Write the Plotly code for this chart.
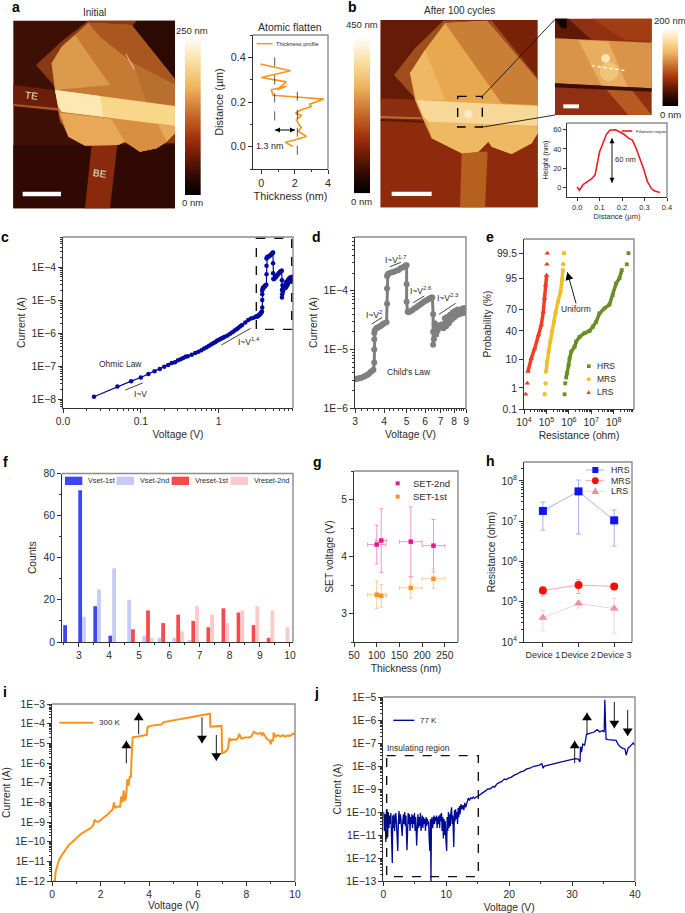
import math
import plotly.graph_objects as go
from statistics import NormalDist

W, H = 685, 913
FONT = "Liberation Sans"
INK = "#2b2b2b"

# ---------- data ----------
a_thick = [1.9,1.45,2.0,2.7,2.2,2.4,2.25,2.1,2.4,2.05,2.4,3.0,2.9,3.75,2.5,1.5,0.7,0.6,1.5,0.95,1.5,0.0,1.75,-0.05]
a_dist  = [0.0,0.02,0.03,0.046,0.07,0.085,0.1,0.12,0.14,0.15,0.165,0.18,0.19,0.213,0.22,0.225,0.23,0.255,0.27,0.255,0.29,0.31,0.34,0.37]
b_dist = [0,0.01,0.027,0.045,0.065,0.08,0.09,0.1,0.115,0.13,0.145,0.155,0.17,0.18,0.195,0.21,0.23,0.245,0.26,0.275,0.295,0.313,0.33,0.343,0.36,0.368]
b_hgt  = [0.5,-3,3,5.5,9,13,25,37,46,55,59.5,60,60,59,57,55,51,49.5,42,33,20,6,-1,-3.6,-5,-5.4]

cV = [0.025,0.05,0.075,0.1,0.125,0.15,0.175,0.2,0.225,0.25,0.275,0.3,0.325,0.35,0.375,0.4,0.45,0.5,0.55,0.6,0.65,0.7,0.75,0.8,0.85,0.9,0.95,1.0,1.05,1.1,1.15,1.2,1.3,1.4,1.5,1.6,1.7,1.8,1.9,2.0,2.2,2.4,2.6,2.8,3.0,3.05,3.1,3.15,3.2,3.25,3.3,3.35,3.4,3.45,3.5,3.55,3.6,3.63,3.63,3.63,3.63,3.65,3.7,3.75,3.8,3.85,3.9,3.95,4.0,4.1,4.12,4.12,4.12,4.15,4.2,4.3,4.4,4.5,4.6,4.7,4.8,4.9,4.95,5.0,5.0,5.0,5.05,5.1,5.2,5.3,5.4,5.5,5.6,5.7,5.8,5.9,6.0,6.1,6.2,6.3,6.4,6.45,6.5,6.5,6.5,6.55,6.6,6.65,6.7,6.75,6.8,6.9,7.0,7.1,7.2,7.3,7.4,7.5,7.6,7.7,7.8,7.9,8.0,8.1,8.2,8.3,8.4,8.5,8.6,8.7,8.8,8.9,9.0]
cI = [1.18e-8,2.4e-8,3.5e-8,4.5e-8,5.8e-8,7e-8,8.2e-8,9.5e-8,1.08e-7,1.25e-7,1.3e-7,1.5e-7,1.62e-7,1.75e-7,1.9e-7,2e-7,2.2e-7,2.5e-7,2.7e-7,3e-7,3.4e-7,3.7e-7,4.1e-7,4.5e-7,4.9e-7,5.3e-7,5.8e-7,6.2e-7,6.6e-7,7e-7,7.4e-7,7.7e-7,8.5e-7,9.5e-7,1.05e-6,1.2e-6,1.3e-6,1.45e-6,1.6e-6,1.75e-6,2.1e-6,2.5e-6,2.75e-6,2.9e-6,3.1e-6,3.15e-6,3.2e-6,3.25e-6,3.3e-6,3.4e-6,3.5e-6,3.6e-6,3.7e-6,3.9e-6,4.1e-6,4.3e-6,4.5e-6,6e-6,1e-5,1.5e-5,1.9e-5,2.1e-5,2.3e-5,2.35e-5,2.45e-5,2.5e-5,2.6e-5,2.7e-5,2.8e-5,2.9e-5,6e-5,1.1e-4,1.8e-4,1.9e-4,2e-4,2.05e-4,2.1e-4,2.2e-4,2.25e-4,2.4e-4,2.5e-4,2.6e-4,2.7e-4,2.75e-4,1.3e-4,6.5e-5,4.4e-5,4.3e-5,4.5e-5,4.7e-5,5e-5,5.2e-5,5.5e-5,5.8e-5,6.1e-5,6.4e-5,6.7e-5,6.9e-5,7.2e-5,7.5e-5,7.7e-5,7.7e-5,4e-5,1.2e-5,2e-5,1.5e-5,2.8e-5,2e-5,1.8e-5,2.4e-5,2.1e-5,2.6e-5,2.4e-5,2.7e-5,2.3e-5,3.4e-5,2.5e-5,3.6e-5,2.8e-5,3.9e-5,3.2e-5,4.3e-5,3.5e-5,4.6e-5,3.8e-5,4.8e-5,4e-5,4.7e-5,4.1e-5,5e-5,4.2e-5,5.1e-5,4.4e-5]

e_hrs_R = [6.4e5,6.9e5,7.6e5,8.4e5,9.7e5,1.07e6,1.27e6,1.79e6,2.1e6,3e6,5e6,8.3e6,1.17e7,1.64e7,2.3e7,3.85e7,6.4e7,9e7,1.27e8,1.79e8,2.27e8,3.8e8,4.5e8]
e_hrs_P = [0.53,1.55,2.6,3.7,6.8,10.5,15.7,20.5,26,32,37,40,46,53,65,71.6,76,85.4,93,95.2,97.5,98.5,99.5]
e_mrs_R = [8.3e4,9.2e4,9.5e4,1.05e5,1.25e5,1.48e5,1.75e5,2.15e5,2.55e5,3.24e5,4.26e5,4.9e5,5.4e5,5.6e5,6e5]
e_mrs_P = [0.53,1.55,4.2,8.5,15.7,26,39,53,66.5,79,88,94.5,97.5,98.5,99.5]
e_lrs_R = [1.19e4,1.4e4,1.5e4,2.1e4,3e4,4.5e4,5.9e4,7.2e4,8.3e4,9.2e4,1.02e5,1.05e5,1.09e5]
e_lrs_P = [0.53,1.55,4.2,10.5,18.8,34.5,48.6,67,82.5,92.2,96.2,98.5,99.5]
e_ticks = [0.1,1,10,40,70,95,99.5]

f_set1_x = [2.5,3,3.5,4]
f_set1 = [8,72,17,3]
f_set2_x = [3,3.5,4,4.5,5,5.5,6,6.5]
f_set2 = [12,25,35,20,3,2,2,1]
f_rst1_x = [4.5,5,5.5,6,6.5,7,7.5,8,8.5,9]
f_rst1 = [6,15,9,13,10,7,16,14,8,2]
f_rst2_x = [5,6,6.5,7,7.5,8,8.5,9,9.5]
f_rst2 = [2,5,17,13,9,15,17,15,7]

g_x = [100,110,175,225]
g_xerr = [20,12,25,25]
g_2nd = [4.21,4.28,4.26,4.19]
g_2nd_err = [0.34,0.56,0.61,0.46]
g_1st = [3.33,3.31,3.45,3.61]
g_1st_err = [0.24,0.2,0.18,0.17]

h_dev = [1,2,3]
h_hrs = [1.8e7,5.5e7,1.05e7]
h_hrs_lo = [6e6,4.8e6,2.4e6]
h_hrs_hi = [3e7,1.05e8,1.9e7]
h_mrs = [1.9e5,2.6e5,2.4e5]
h_mrs_lo = [1.4e5,1.6e5,2.2e5]
h_mrs_hi = [2.4e5,3.5e5,2.7e5]
h_lrs = [4e4,9e4,6.8e4]
h_lrs_lo = [1.9e4,7e4,1.6e4]
h_lrs_hi = [6e4,1.05e5,1.2e5]

iV = [0.05,0.12,0.15,0.2,0.3,0.4,0.55,0.7,0.85,1.0,1.2,1.4,1.6,1.7,1.75,1.8,1.9,2.1,2.3,2.5,2.55,2.6,2.65,2.8,2.85,2.9,2.95,3.0,3.05,3.1,3.15,3.2,3.25,3.27,3.3,3.32,3.6,3.9,3.93,4.0,4.3,4.5,4.6,4.9,5.5,6.0,6.4,6.5,6.52,6.98,7.0,7.1,7.2,7.25,
      7.3,7.35,7.45,7.55,7.65,7.7,7.8,7.95,8.1,8.2,8.3,8.4,8.5,8.6,8.65,8.7,8.8,8.85,8.95,9.0,9.05,9.1,9.12,9.2,9.3,9.4,9.5,9.6,9.7,9.8,9.9,10]
iI = [1e-12,1e-12,3e-12,5e-12,1.3e-11,2e-11,3.5e-11,7e-11,1e-10,1.5e-10,2.5e-10,3.5e-10,5e-10,7e-10,1.3e-9,1.1e-9,1e-9,1.6e-9,2.5e-9,4.5e-9,1e-8,5e-9,6e-9,6e-9,2e-8,1e-8,4e-8,1.2e-8,2e-8,1.5e-7,7e-8,2e-7,2e-7,1.5e-6,1.8e-5,2e-5,2.3e-5,2.7e-5,6.5e-5,7.5e-5,8.5e-5,9e-5,1.2e-4,1.4e-4,2e-4,2.6e-4,3e-4,3.2e-4,7e-5,7.7e-5,3.2e-6,3.5e-6,4.5e-6,6e-6,
      1.9e-5,1.4e-5,1.6e-5,1.5e-5,1.8e-5,3e-5,1.7e-5,2e-5,2e-5,2.2e-5,3.8e-5,3.4e-5,3e-5,3.4e-5,2.6e-5,3.2e-5,2.2e-5,1.6e-5,1.4e-5,9e-6,1.6e-5,1.3e-5,3.5e-5,2.2e-5,2.6e-5,2.2e-5,2.6e-5,2.2e-5,2.5e-5,2.4e-5,2.9e-5,3.3e-5]

jV = [0.05,0.1,0.15,0.2,0.25,0.3,0.35,0.4,0.5,0.55,
      0.6,0.7,0.8,0.9,1.0,1.1,1.2,1.3,1.43,1.5,
      1.6,1.7,1.8,1.9,2.0,2.1,2.2,2.3,2.4,2.5,
      2.6,2.7,2.8,2.9,3.0,3.1,3.2,3.3,3.4,3.5,
      3.6,3.76,3.85,3.95,4.05,4.15,4.25,4.35,4.45,4.55,
      4.65,4.75,4.85,4.95,5.05,5.15,5.3,5.4,5.5,5.6,
      5.7,5.8,5.9,6.0,6.1,6.2,6.3,6.4,6.5,6.6,
      6.7,6.8,6.9,7.0,7.1,7.2,7.3,7.4,7.5,7.58,
      7.65,7.75,7.85,7.95,8.05,8.15,8.25,8.35,8.45,8.55,
      8.65,8.75,8.85,8.95,9.05,9.15,9.25,9.35,9.45,9.55,
      9.65,9.75,9.85,9.95,10.07,10.15,10.25,10.35,10.45,10.55,
      10.65,10.75,10.85,10.95,11.05,11.2,11.3,11.4,11.5,11.6,
      11.7,11.8,11.9,12.0,12.1,12.2,12.35,12.5,12.65,12.8,
      12.95,13.1,13.3,13.5,13.7,13.9,14.1,14.3,14.5,14.7,
      15.1,15.4,15.7,16.0,16.3,16.6,16.9,17.2,17.5,17.7,
      18,18.4,18.8,19.2,19.6,19.9,20.3,20.8,21.3,21.8,
      22.3,22.8,23.3,23.8,24.3,24.8,25.2,25.4,25.6,26.2,
      27,27.8,28.5,29.2,30,30.5,31,31.26,31.35,31.5,
      31.7,32,32.3,32.6,32.9,33.2,33.5,34,34.4,34.8,
      35.1,35.2,35.4,35.7,36,36.5,37,37.3,37.6,38,
      38.4,38.6,38.9,39.2,39.7,40]
jI = [1e-10,3e-11,1.5e-11,7e-11,2.5e-11,8e-11,1e-11,5e-12,1.2e-10,3e-11,
      1.3e-10,8e-12,1e-10,2e-11,7e-11,3e-11,9e-11,2e-11,6e-13,7e-11,
      2e-11,8e-11,1.5e-11,5e-11,9e-11,3e-11,1e-11,2e-12,4e-11,1.1e-10,
      3e-11,8e-11,5e-11,2e-11,9e-12,4e-11,8e-11,3e-11,1e-10,2.5e-11,
      7e-11,2.2e-12,6e-11,9e-11,3e-11,8e-11,1.5e-11,6e-11,3e-11,8e-11,
      2e-11,7e-11,3e-11,9e-11,1.5e-11,6e-11,3.5e-12,5e-11,8e-11,2e-11,
      6e-11,2.5e-11,9e-11,1.5e-11,5e-11,7e-11,2e-11,6e-11,3e-11,5e-11,
      1.5e-11,6e-11,2.5e-11,5e-11,3e-11,4e-11,6e-12,2e-12,5e-11,1e-13,
      3e-11,6e-11,2e-11,5e-11,7e-11,3e-11,6e-11,4e-11,7e-11,2e-11,
      6e-11,3e-11,7e-11,2e-11,8e-11,4e-11,9e-11,1.5e-11,6e-11,7e-12,
      5e-11,1e-11,4e-11,6e-12,2e-12,6e-11,1.5e-11,1e-10,2e-11,8e-11,
      2.5e-11,1e-10,1.6e-10,3e-11,7e-11,3e-12,1.2e-10,4e-11,1.3e-10,5e-11,
      1e-10,3e-11,1.5e-10,6e-11,1.8e-10,8e-11,2.2e-10,1.3e-10,2e-10,1.2e-10,
      2.5e-10,1.6e-10,2.8e-10,4e-10,3.2e-10,4.2e-10,3.8e-10,4.5e-10,3.9e-10,4.4e-10,
      5e-10,5.8e-10,7e-10,7.5e-10,8.5e-10,1e-9,1e-9,1.1e-9,1.3e-9,1.2e-9,
      1.6e-9,1.9e-9,2.1e-9,2.7e-9,2.6e-9,3e-9,3.2e-9,4e-9,4.5e-9,5.5e-9,
      6e-9,7.5e-9,8e-9,9.5e-9,1e-8,1.1e-8,1.25e-8,8e-9,1e-8,1.1e-8,
      1.3e-8,1.45e-8,1.6e-8,1.8e-8,2e-8,2.1e-8,2e-8,1.5e-8,7e-8,4e-8,
      9e-8,8e-8,2.4e-7,2.5e-7,2.7e-7,2.9e-7,3e-7,3.8e-7,3e-7,3.5e-7,
      3e-7,7.5e-6,1.5e-7,1.4e-7,1.4e-7,1.3e-7,1.3e-7,9e-8,7e-8,6e-8,
      5.5e-8,3e-8,6e-8,7e-8,1e-7,8e-8]

# ---------- helpers ----------
def px(x): return x / W
def py(y): return 1 - y / H
def c(o, x, y): return (o[0] + x / 3, o[1] + y / 3)

O1, O2, O3, O4, O5, O6, O7, O8 = (0,0), (345,0), (0,225), (345,225), (0,450), (315,450), (0,670), (345,670)
fig = go.Figure()
shapes, annos = [], []
axcount = [0]

def text(x, y, s, size=10, color=INK, anchor="center", angle=0, bold=False, italic=False):
    if bold: s = f"<b>{s}</b>"
    if italic: s = f"<i>{s}</i>"
    annos.append(dict(x=px(x), y=py(y), xref="paper", yref="paper", text=s, showarrow=False,
                      font=dict(family=FONT, size=size, color=color), xanchor=anchor, yanchor="middle", textangle=angle))

def path_px(pp, fill):
    d = "M" + " L".join(f"{px(x):.5f},{py(y):.5f}" for x, y in pp) + " Z"
    shapes.append(dict(type="path", path=d, xref="paper", yref="paper", fillcolor=fill, line=dict(width=0), layer="above"))

def poly(o, pts, fill):
    path_px([c(o, *p) for p in pts], fill)

def rect(o, x0, y0, x1, y1, fill="rgba(0,0,0,0)", line=None, lw=0, dash="solid"):
    a, b = c(o, x0, y0), c(o, x1, y1)
    shapes.append(dict(type="rect", x0=px(a[0]), y0=py(a[1]), x1=px(b[0]), y1=py(b[1]), xref="paper", yref="paper",
                       fillcolor=fill, line=dict(width=lw, color=line or "rgba(0,0,0,0)", dash=dash), layer="above"))

def line(o, x0, y0, x1, y1, color="#111", lw=0.8, dash="solid"):
    a, b = c(o, x0, y0), c(o, x1, y1)
    shapes.append(dict(type="line", x0=px(a[0]), y0=py(a[1]), x1=px(b[0]), y1=py(b[1]), xref="paper", yref="paper",
                       line=dict(width=lw, color=color, dash=dash), layer="above"))

def circle(o, cx, cy, r, fill):
    a = c(o, cx - r, cy - r); b = c(o, cx + r, cy + r)
    shapes.append(dict(type="circle", x0=px(a[0]), y0=py(a[1]), x1=px(b[0]), y1=py(b[1]), xref="paper", yref="paper",
                       fillcolor=fill, line=dict(width=0), layer="above"))

def head(tip, frm, L, w):
    ux, uy = tip[0] - frm[0], tip[1] - frm[1]
    n = math.hypot(ux, uy); ux, uy = ux / n, uy / n
    bx, by = tip[0] - ux * L, tip[1] - uy * L
    path_px([tip, (bx - uy * w / 2, by + ux * w / 2), (bx + uy * w / 2, by - ux * w / 2)], "#000000")

def arrow(o, x0, y0, x1, y1, L=7.5, w=10, lw=0.9, both=False):
    a, b = c(o, x0, y0), c(o, x1, y1)
    shapes.append(dict(type="line", x0=px(a[0]), y0=py(a[1]), x1=px(b[0]), y1=py(b[1]), xref="paper", yref="paper",
                       line=dict(width=lw, color="#000"), layer="above"))
    head(b, a, L, w)
    if both: head(a, b, L, w)

def tri(o, cx, cy, r, fill):
    a = c(o, cx, cy)
    path_px([(a[0], a[1] - r), (a[0] - r, a[1] + r * 0.8), (a[0] + r, a[1] + r * 0.8)], fill)

def axes(box, xt=None, yt=None, xr=None, yr=None, xtype="linear", ytype="linear", xkw=None, ykw=None, frame=True, xs=8, ys=10, fs=10.3):
    axcount[0] += 1
    n = axcount[0]
    x0, y0, x1, y1 = box
    xk = dict(domain=[px(x0), px(x1)], anchor=f"y{n}", range=xr, type=xtype, showgrid=False, zeroline=False, showline=True,
              linecolor="#333", linewidth=1, ticks="outside", ticklen=4, tickwidth=0.8, tickcolor="#333", tickangle=0,
              tickfont=dict(family=FONT, size=fs, color=INK), layer="above traces")
    yk = dict(domain=[py(y1), py(y0)], anchor=f"x{n}", range=yr, type=ytype, showgrid=False, zeroline=False, showline=True,
              linecolor="#333", linewidth=1, ticks="outside", ticklen=4, tickwidth=0.8, tickcolor="#333",
              tickfont=dict(family=FONT, size=fs, color=INK), layer="above traces")
    if xt: xk["title"] = dict(text=xt, font=dict(family=FONT, size=fs, color=INK), standoff=xs)
    if yt: yk["title"] = dict(text=yt, font=dict(family=FONT, size=fs, color=INK), standoff=ys)
    xk.update(xkw or {}); yk.update(ykw or {})
    fig.update_layout({f"xaxis{n}": xk, f"yaxis{n}": yk})
    if frame:
        shapes.append(dict(type="path", xref="paper", yref="paper", layer="above", line=dict(width=1.4, color="#8c8c8c"),
                           path=f"M{px(x0)},{py(y0)} L{px(x1)},{py(y0)} L{px(x1)},{py(y1)}"))
    return dict(xaxis=f"x{n}", yaxis=f"y{n}")

def dec_minor(lo, hi):
    return [m * 10.0 ** e for e in range(lo, hi) for m in range(2, 10)]

AFM = [[0,"#000000"],[0.12,"#2e0a02"],[0.27,"#7a1f06"],[0.38,"#a8390f"],[0.5,"#c4692a"],[0.68,"#eeb45e"],[0.85,"#fbe1a6"],[1,"#ffffff"]]
def colorbar(o, x0, y0, x1, y1):
    a, b = c(o, x0, y0), c(o, x1, y1)
    ax = axes((a[0], a[1], b[0], b[1]), xr=[0, 1], yr=[0, 255], frame=False,
              xkw=dict(visible=False), ykw=dict(visible=False))
    fig.add_trace(go.Heatmap(z=[[k] for k in range(256)], x=[0.5], y=list(range(256)), colorscale=AFM, showscale=False, hoverinfo="skip", **ax))

# ---------- panel a image ----------
rect(O1, 40, 62, 525, 625, fill="#3e1005")
rect(O1, 40, 435, 525, 625, fill="#300a02")
poly(O1, [(410,62),(525,62),(525,235),(395,80)], "#2c0902")
poly(O1, [(40,255),(180,272),(180,332),(40,315)], "#6b1f0a")
poly(O1, [(40,312),(178,325),(178,332),(40,318)], "#b2541f")
poly(O1, [(275,435),(352,435),(330,625),(255,625)], "#8a2a0c")
poly(O1, [(108,195),(190,120),(265,62),(410,62),(395,80),(525,240),(525,430),(350,430),(180,370),(165,260)], "#8a3a12")
poly(O1, [(155,190),(185,140),(265,68),(395,75),(525,238),(525,400),(500,425),(470,445),(420,455),(375,425),(355,435),(255,437),(205,410),(178,350),(165,270)], "#c67a33")
poly(O1, [(155,190),(185,140),(225,105),(330,255),(165,270)], "#dc9a4c")
poly(O1, [(265,68),(395,75),(525,238),(525,255),(400,190),(300,110)], "#a9561f")
poly(O1, [(400,190),(525,255),(525,320),(440,310)], "#b96f2d")
poly(O1, [(180,338),(525,378),(525,400),(500,425),(470,445),(420,455),(375,425),(355,435),(255,437),(205,410)], "#e8a857")
poly(O1, [(330,350),(470,365),(500,425),(470,445),(420,455),(375,425)], "#d98f42")
poly(O1, [(165,270),(525,318),(525,378),(185,335),(175,320)], "#f8d68a")
poly(O1, [(165,270),(300,288),(310,350),(185,335),(175,320)], "#fde8b4")
line(O1, 378, 162, 403, 208, color="#f4e3c4", lw=0.8)
rect(O1, 68, 575, 183, 589, fill="#ffffff")
text(*c(O1, 93, 287), "TE", size=10, color="#f3e6d8", angle=8)
text(*c(O1, 300, 521), "BE", size=10, color="#f3e6d8", angle=8)
text(*c(O1, 282, 38), "Initial", size=10)
colorbar(O1, 555, 110, 602, 585)
text(*c(O1, 576, 90), "250 nm", size=9.5)
text(*c(O1, 576, 608), "0 nm", size=9.5)
text(*c(O1, 870, 82), "Atomic flatten", size=10.5)

ax = axes((253,35,328,169), xt="Thickness (nm)", yt="Distance (µm)", xr=[-0.5,4], yr=[-0.1,0.5], xs=4, ys=5, fs=10.8,
          xkw=dict(tickvals=[0,2,4], minor=dict(tickvals=[1,3], ticks="outside", ticklen=2, tickcolor="#333")),
          ykw=dict(tickvals=[0,0.2,0.4], ticktext=["0.0","0.2","0.4"], minor=dict(tickvals=[-0.1,0.1,0.3,0.5], ticks="outside", ticklen=2, tickcolor="#333")))
fig.add_trace(go.Scatter(x=a_thick, y=a_dist, mode="lines", line=dict(color="#f7931e", width=1.6), showlegend=False, **ax))
line(O1, 770, 131, 818, 131, color="#f7931e", lw=1.4)
text(*c(O1, 821, 131), "Thickness profile", size=5.7, anchor="left")
line(O1, 824, 172, 824, 372, lw=0.7, dash="dash")
line(O1, 892, 275, 892, 472, lw=0.7, dash="dash")
arrow(O1, 825, 390, 885, 390, L=5, w=5, lw=1, both=True)
text(*c(O1, 809, 437), "1.3 nm", size=9)

# ---------- panel b image ----------
rect(O2, 107, 60, 578, 622, fill="#7a2208")
rect(O2, 107, 60, 300, 300, fill="#651b07")
rect(O2, 107, 360, 578, 622, fill="#8e2b0c")
poly(O2, [(107,295),(230,300),(230,352),(107,348)], "#8c2f10")
poly(O2, [(107,348),(232,352),(232,358),(107,355)], "#bd6a2c")
poly(O2, [(107,357),(240,362),(240,368),(107,363)], "#561706")
poly(O2, [(350,455),(428,455),(420,622),(345,622)], "#b5601f")
poly(O2, [(147,225),(210,145),(295,62),(440,62),(578,235),(578,400),(300,400),(215,300)], "#a04d1c")
poly(O2, [(195,220),(240,150),(300,70),(425,62),(578,240),(578,400),(560,430),(500,462),(440,440),(430,425),(400,455),(350,460),(290,430),(260,415),(235,360),(210,300)], "#e8a850")
poly(O2, [(300,70),(425,62),(578,240),(578,315),(470,310)], "#c97f36")
poly(O2, [(195,220),(240,150),(300,300),(215,300)], "#efb865")
poly(O2, [(250,365),(578,380),(578,400),(560,430),(500,462),(440,440),(430,425),(400,455),(350,460),(290,430),(260,415)], "#efb863")
poly(O2, [(215,300),(578,318),(578,378),(250,365),(235,350)], "#f8d898")
circle(O2, 370, 342, 12, "#fcecc6")
rect(O2, 338, 289, 412, 381, line="#000", lw=1.4, dash="dash")
line(O2, 412, 289, 630, 58, lw=0.9)
line(O2, 415, 381, 630, 345, lw=0.9)
rect(O2, 140, 575, 260, 588, fill="#ffffff")
text(*c(O2, 342, 30), "After 100 cycles", size=10)
colorbar(O2, 27, 110, 75, 580)
text(*c(O2, 52, 75), "450 nm", size=9.5)
text(*c(O2, 50, 605), "0 nm", size=9.5)

# inset image
rect(O2, 630, 56, 920, 345, fill="#8f3010")
poly(O2, [(630,56),(670,56),(740,120),(630,115)], "#5e1a07")
poly(O2, [(630,56),(665,56),(665,85),(650,85)], "#120402")
poly(O2, [(740,56),(920,56),(920,125),(840,120)], "#a13c13")
poly(O2, [(780,265),(860,270),(920,345),(850,345)], "#b55a22")
poly(O2, [(630,115),(920,128),(920,265),(630,250)], "#d9944a")
poly(O2, [(700,120),(790,125),(850,265),(770,258)], "#e9ae60")
poly(O2, [(630,250),(920,265),(920,275),(630,262)], "#3a0f05")
circle(O2, 792, 215, 28, "#f2c478")
circle(O2, 782, 175, 13, "#fce6b4")
line(O2, 740, 197, 840, 212, color="#ffffff", lw=1.4, dash="dot")
rect(O2, 655, 313, 702, 325, fill="#ffffff")
colorbar(O2, 952, 85, 1000, 318)
text(*c(O2, 975, 60), "200 nm", size=9.5)
text(*c(O2, 975, 343), "0 nm", size=9.5)

ax = axes((567,123,667,197), xt="Distance (µm)", yt="Height (nm)", xr=[-0.045,0.4], yr=[-10,67], xs=2, ys=3, fs=7.5,
          xkw=dict(tickvals=[0,0.1,0.2,0.3,0.4], ticktext=["0.0","0.1","0.2","0.3","0.4"], ticklen=3),
          ykw=dict(tickvals=[0,20,40,60], ticklen=3))
fig.add_trace(go.Scatter(x=b_dist, y=b_hgt, mode="lines", line=dict(color="#ee1c25", width=1.6), showlegend=False, **ax))
line(O2, 830, 393, 862, 393, color="#ee1c25", lw=1.6)
text(*c(O2, 868, 393), "Filament region", size=4.4, anchor="left")
arrow(O2, 801, 415, 801, 548, L=5, w=5, both=True)
text(*c(O2, 842, 480), "60 nm", size=7.5)

# ---------- panel c ----------
BLUE = "#000aa0"
ax = axes((63,237,293,408), xt="Voltage (V)", yt="Current (A)", xr=[-2,0.955], yr=[-8.27,-3.09], xtype="log", ytype="log", xs=4, ys=3,
          xkw=dict(tickvals=[0.01,0.1,1], ticktext=["0.0","0.1","1"], minor=dict(tickvals=dec_minor(-2,1), ticks="outside", ticklen=2, tickcolor="#333")),
          ykw=dict(tickvals=[1e-8,1e-7,1e-6,1e-5,1e-4], ticktext=["1E−8","1E−7","1E−6","1E−5","1E−4"], minor=dict(tickvals=dec_minor(-9,-3), ticks="outside", ticklen=2, tickcolor="#333")))
fig.add_trace(go.Scatter(x=cV, y=cI, mode="lines+markers", line=dict(color=BLUE, width=1.2), marker=dict(color=BLUE, size=4.5), showlegend=False, **ax))
rect(O3, 769, 40, 875, 313, line="#111", lw=1.4, dash="dash")
line(O3, 376, 495, 428, 474); line(O3, 664, 360, 752, 310)
text(*c(O3, 360, 416), "Ohmic Law", size=8.5)
text(*c(O3, 420, 508), "I~V", size=8.5)
text(*c(O3, 748, 350), "I~V<sup>1.4</sup>", size=8.5)

# ---------- panel d ----------
GRAY = "#7f7f7f"
dV = [v for v in cV if v >= 3]
dI = [i for v, i in zip(cV, cI) if v >= 3]
ax = axes((355,237,466,408), xt="Voltage (V)", yt="Current (A)", xr=[0.4771,0.9542], yr=[-6,-3.08], xtype="log", ytype="log", xs=4, ys=3,
          xkw=dict(tickvals=[3,4,5,6,7,8,9], minor=dict(tickvals=[3+0.2*k for k in range(31)], ticks="outside", ticklen=2, tickcolor="#333")),
          ykw=dict(tickvals=[1e-6,1e-5,1e-4], ticktext=["1E−6","1E−5","1E−4"], minor=dict(tickvals=dec_minor(-6,-3), ticks="outside", ticklen=2, tickcolor="#333")))
fig.add_trace(go.Scatter(x=dV, y=dI, mode="lines+markers", line=dict(color=GRAY, width=3), marker=dict(color=GRAY, size=6), showlegend=False, **ax))
line(O4, 80, 297, 112, 277); line(O4, 135, 125, 168, 112); line(O4, 205, 233, 238, 213); line(O4, 282, 268, 332, 235)
text(*c(O4, 86, 268), "I~V<sup>2</sup>", size=8.5)
text(*c(O4, 152, 102), "I~V<sup>1.7</sup>", size=8.5)
text(*c(O4, 228, 195), "I~V<sup>2.6</sup>", size=8.5)
text(*c(O4, 308, 217), "I~V<sup>2.3</sup>", size=8.5)
text(*c(O4, 192, 441), "Child's Law", size=8.5)

# ---------- panel e ----------
nd = NormalDist()
z = lambda ps: [nd.inv_cdf(p / 100) for p in ps]
ax = axes((524,239,634,409), xt="Resistance (ohm)", yt="Probability (%)", xr=[4,8.9], yr=[z([0.1])[0], -z([0.1])[0]], xtype="log", xs=4, ys=3,
          xkw=dict(tickvals=[1e4,1e5,1e6,1e7,1e8], ticktext=["10<sup>4</sup>","10<sup>5</sup>","10<sup>6</sup>","10<sup>7</sup>","10<sup>8</sup>"],
                   minor=dict(tickvals=dec_minor(4,9), ticks="outside", ticklen=2, tickcolor="#333")),
          ykw=dict(tickvals=z(e_ticks), ticktext=[str(t) for t in e_ticks]))
for Rs, Ps, col, sym, ms, cut in [(e_hrs_R,e_hrs_P,"#6a8e23","square",3.8,-2),(e_mrs_R,e_mrs_P,"#efbe28","circle",4.4,-2),(e_lrs_R,e_lrs_P,"#f43b26","triangle-up",5,-2)]:
    fig.add_trace(go.Scatter(x=Rs[2:cut], y=z(Ps[2:cut]), mode="lines", line=dict(color=col, width=3.5), showlegend=False, hoverinfo="skip", **ax))
    fig.add_trace(go.Scatter(x=Rs, y=z(Ps), mode="markers", marker=dict(color=col, size=ms, symbol=sym), showlegend=False, **ax))
rect(O4, 726, 418, 737, 429, fill="#6a8e23")
circle(O4, 731, 463, 6, "#efbe28")
tri(O4, 731, 502, 2.2, "#f43b26")
text(*c(O4, 750, 424), "HRS", size=8.5, anchor="left")
text(*c(O4, 750, 463), "MRS", size=8.5, anchor="left")
text(*c(O4, 750, 502), "LRS", size=8.5, anchor="left")
arrow(O4, 693, 235, 667, 142, L=7.5, w=8)
text(*c(O4, 694, 253), "Uniform", size=8.5)

# ---------- panel f ----------
ax = axes((62,473.5,293,642), yt="Counts", xr=[2.44,10.1], yr=[0,80], xs=4, ys=4,
          xkw=dict(tickvals=list(range(3,11)), minor=dict(tickvals=[2.5+k for k in range(8)], ticks="outside", ticklen=2, tickcolor="#333")),
          ykw=dict(tickvals=[0,20,40,60,80], minor=dict(tickvals=[10,30,50,70], ticks="outside", ticklen=2, tickcolor="#333")))
for xs_, ys_, col, nm, off, lx in [(f_set1_x,f_set1,"#3c46f5","Vset-1st",-0.02,195),(f_set2_x,f_set2,"#c6caf9","Vset-2nd",0.105,350),
                                   (f_rst1_x,f_rst1,"#f84a4a","Vreset-1st",0.23,515),(f_rst2_x,f_rst2,"#fdc8c8","Vreset-2nd",0.355,692)]:
    fig.add_trace(go.Bar(x=xs_, y=ys_, width=0.125, offset=off, marker=dict(color=col, line=dict(width=0)), showlegend=False, **ax))
    rect(O5, lx, 80, lx + 52, 105, fill=col)
    text(*c(O5, lx + 64, 92), nm, size=7.3, anchor="left")

# ---------- panel g ----------
ax = axes((354,471,458,642), xt="Thickness (nm)", yt="SET voltage (V)", xr=[50,279], yr=[2.5,5.5], xs=4, ys=5,
          xkw=dict(tickvals=[50,100,150,200,250]),
          ykw=dict(tickvals=[3,4,5], minor=dict(tickvals=[2.5,3.5,4.5,5.5], ticks="outside", ticklen=2, tickcolor="#333")))
for ys_, er, col, ecol, nm, ly in [(g_2nd,g_2nd_err,"#f0148c","#f48cc4","SET-2nd",100),(g_1st,g_1st_err,"#f7931e","#f9c590","SET-1st",140)]:
    fig.add_trace(go.Scatter(x=g_x, y=ys_, mode="markers", marker=dict(color=col, size=4.5, symbol="square"), showlegend=False,
                             error_x=dict(type="data", array=g_xerr, color=ecol, thickness=0.9, width=2),
                             error_y=dict(type="data", array=er, color=ecol, thickness=0.9, width=2), **ax))
    rect(O6, 242, ly - 6, 254, ly + 6, fill=col)
    text(*c(O6, 288, ly), nm, size=9.5, anchor="left")

# ---------- panel h ----------
ax = axes((524,462,632,642), yt="Resistance (ohm)", xr=[0.47,3.5], yr=[4,8.47], ytype="log", xs=4, ys=3,
          xkw=dict(tickvals=[1,2,3], ticktext=["Device 1","Device 2","Device 3"], tickfont=dict(family=FONT, size=8.9, color=INK)),
          ykw=dict(tickvals=[1e4,1e5,1e6,1e7,1e8], ticktext=["10<sup>4</sup>","10<sup>5</sup>","10<sup>6</sup>","10<sup>7</sup>","10<sup>8</sup>"],
                   minor=dict(tickvals=dec_minor(4,9), ticks="outside", ticklen=2, tickcolor="#333")))
for ys_, lo, hi, col, ecol, sym, nm, ly in [(h_hrs,h_hrs_lo,h_hrs_hi,"#0f14f0","#aab0f8","square","HRS",60),
                                            (h_mrs,h_mrs_lo,h_mrs_hi,"#f50c0c","#f9a9a9","circle","MRS",92),
                                            (h_lrs,h_lrs_lo,h_lrs_hi,"#ee8fa0","#f8d2d8","triangle-up","LRS",124)]:
    fig.add_trace(go.Scatter(x=h_dev, y=ys_, mode="lines+markers", line=dict(color=ecol, width=1),
                             marker=dict(color=col, size=8, symbol=sym), showlegend=False,
                             error_y=dict(type="data", symmetric=False, array=[h - v for h, v in zip(hi, ys_)],
                                          arrayminus=[v - l for l, v in zip(lo, ys_)], color=ecol, thickness=1, width=2.5), **ax))
    line(O6, 812, ly, 868, ly, color=ecol, lw=1)
    if sym == "square": rect(O6, 832, ly - 9, 850, ly + 9, fill=col)
    elif sym == "circle": circle(O6, 841, ly, 10, col)
    else: tri(O6, 841, ly - 1, 3.8, col)
    text(*c(O6, 882, ly), nm, size=8.8, anchor="left")

# ---------- panel i ----------
ORANGE = "#f7931e"
def sci(a, b): return [f"1E−{-e}" for e in range(a, b + 1)]
ax = axes((52,704,295,881), xt="Voltage (V)", yt="Current (A)", xr=[0,10], yr=[-12,-3], ytype="log", xs=2, ys=2,
          xkw=dict(tickvals=[0,2,4,6,8,10], minor=dict(tickvals=[1,3,5,7,9], ticks="outside", ticklen=2, tickcolor="#333")),
          ykw=dict(tickvals=[10.0**e for e in range(-12,-2)], ticktext=sci(-12,-3), minor=dict(tickvals=dec_minor(-12,-3), ticks="outside", ticklen=2, tickcolor="#333")))
fig.add_trace(go.Scatter(x=iV, y=iI, mode="lines", line=dict(color=ORANGE, width=2), showlegend=False, **ax))
line(O7, 178, 158, 280, 158, color=ORANGE, lw=2)
text(*c(O7, 291, 158), "300 K", size=8, anchor="left")
arrow(O7, 379, 280, 379, 212)
arrow(O7, 416, 192, 416, 128)
arrow(O7, 606, 142, 606, 220)
arrow(O7, 649, 195, 649, 272)

# ---------- panel j ----------
NAVY = "#000a96"
ax = axes((383.3,697,635,881), xt="Voltage (V)", yt="Current (A)", xr=[0,40], yr=[-13,-5], ytype="log", xs=4, ys=2,
          xkw=dict(tickvals=[0,10,20,30,40], minor=dict(tickvals=[5,15,25,35], ticks="outside", ticklen=2, tickcolor="#333")),
          ykw=dict(tickvals=[10.0**e for e in range(-13,-4)], ticktext=sci(-13,-5), minor=dict(tickvals=dec_minor(-13,-5), ticks="outside", ticklen=2, tickcolor="#333")))
fig.add_trace(go.Scatter(x=jV, y=jI, mode="lines", line=dict(color=NAVY, width=1.3), showlegend=False, **ax))
line(O8, 145, 151, 208, 151, color=NAVY, lw=1.4)
text(*c(O8, 220, 151), "77 K", size=8, anchor="left")
rect(O8, 125, 257, 400, 620, line="#111", lw=1.4, dash="dash")
text(*c(O8, 219, 233), "Insulating region", size=8.5)
arrow(O8, 689, 280, 689, 212)
arrow(O8, 726, 192, 726, 128)
arrow(O8, 808, 96, 808, 175)
arrow(O8, 848, 120, 848, 198)

# ---------- panel letters ----------
for (x, y, s) in [(16,7,"a"),(353,7,"b"),(5,237,"c"),(316,237,"d"),(490,237,"e"),(5,462,"f"),(317,462,"g"),(490,461,"h"),(5,692,"i"),(316,693,"j")]:
    text(x, y, s, size=14, color="#000", bold=True)

fig.update_layout(
    width=W, height=H, margin=dict(l=0, r=0, t=0, b=0, autoexpand=False), paper_bgcolor="#ffffff", plot_bgcolor="#ffffff",
    font=dict(family=FONT), shapes=shapes, annotations=annos, barmode="overlay", showlegend=False,
)
fig.write_html("out.html", config=dict(displayModeBar=False),
               post_script="document.body.style.margin='0';document.body.style.overflow='hidden';")
